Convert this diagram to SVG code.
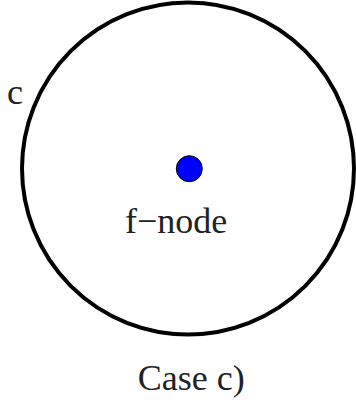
<svg xmlns="http://www.w3.org/2000/svg" width="356" height="403" viewBox="0 0 356 403">
<style>
text{font-family:"Liberation Serif","Times New Roman",serif;font-size:36px;fill:#222}
.ring{fill:none;stroke:#000;stroke-width:4}
.dot{fill:#0000ff;stroke:#000;stroke-width:1}
</style>
<rect width="356" height="403" fill="#fff"/>
<g id="region-c">
<circle class="ring" cx="188" cy="168.5" r="166"/>
<text x="7" y="104">c</text>
</g>
<g id="f-node">
<circle class="dot" cx="189.3" cy="168.7" r="13"/>
<text x="125" y="233">f−node</text>
</g>
<g id="connectors"/>
<text x="137.7" y="390">Case c)</text>
</svg>
